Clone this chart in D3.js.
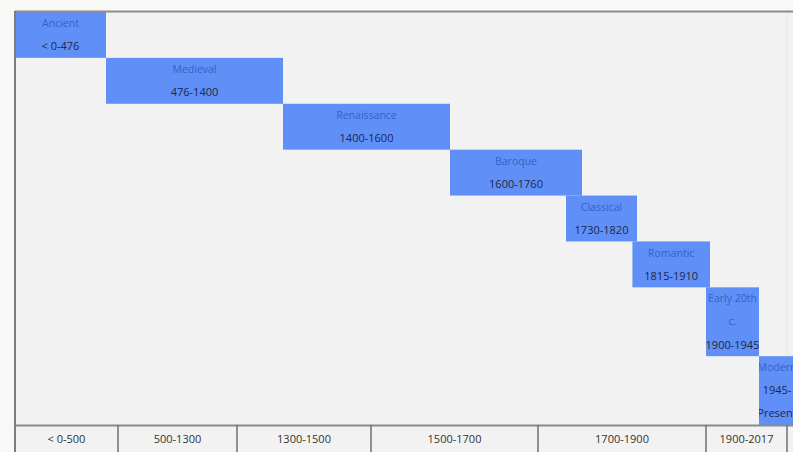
<!DOCTYPE html>
<html>
<head>
<meta charset="utf-8">
<script src="https://cdn.jsdelivr.net/npm/d3@7"></script>
<style>
  html, body { margin: 0; padding: 0; background: #f8f8f6; }
  svg { display: block; }
  text { font-family: "Open Sans", "DejaVu Sans", sans-serif; }
</style>
</head>
<body>
<svg id="chart" width="793" height="452"></svg>
<script>
// ---- data ----
const periods = ["Ancient", "Medieval", "Renaissance", "Baroque", "Classical", "Romantic", "Early 20th c.", "Modern"];
const nameLines = [["Ancient"], ["Medieval"], ["Renaissance"], ["Baroque"], ["Classical"], ["Romantic"], ["Early 20th", "c."], ["Modern"]];
const rangeLines = [["< 0-476"], ["476-1400"], ["1400-1600"], ["1600-1760"], ["1730-1820"], ["1815-1910"], ["1900-1945"], ["1945-", "Present"]];
const startYears = [0, 476, 1400, 1600, 1730, 1815, 1900, 1945];
const endYears = [476, 1400, 1600, 1760, 1820, 1910, 1945, null]; // null = present
const axisLabels = ["< 0-500", "500-1300", "1300-1500", "1500-1700", "1700-1900", "1900-2017"];
const axisBounds = [0, 500, 1300, 1500, 1700, 1900, 2017];

// ---- layout ----
const W = 793, H = 452;
const plotLeft = 15, plotTop = 12, axisY = 425;
const svg = d3.select("#chart");

// piecewise (table-like) year scale
const x = d3.scaleLinear()
  .domain([0, 476, 500, 1300, 1400, 1500, 1600, 1700, 1730, 1760, 1820, 1900, 1910, 1945, 2017])
  .range([15, 106, 118, 237, 283, 371, 450, 538, 566, 582, 637, 706, 710, 759, 787]);

const rows = periods.map((p, i) => ({
  name: p,
  lines: nameLines[i].map(t => ({t, kind: "name"})).concat(rangeLines[i].map(t => ({t, kind: "range"}))),
  start: startYears[i],
  end: endYears[i]
}));
let acc = 0;
rows.forEach(r => { r.l0 = acc; acc += r.lines.length; });
const y = d3.scaleLinear().domain([0, acc]).range([plotTop, axisY]);

// plot background
svg.append("rect").attr("x", plotLeft).attr("y", plotTop).attr("width", W - plotLeft).attr("height", H - plotTop).attr("fill", "#f2f2f2");
svg.append("line").attr("x1", x(2017)).attr("x2", x(2017)).attr("y1", plotTop).attr("y2", axisY).attr("stroke", "#e6e6e6").attr("stroke-width", 1);

const defs = svg.append("defs");
const g = svg.append("g");
rows.forEach((r, i) => {
  const x0 = x(r.start);
  const x1 = r.end == null ? W + 2 : x(r.end);
  const y0 = y(r.l0), y1 = y(r.l0 + r.lines.length);
  defs.append("clipPath").attr("id", "clip" + i)
    .append("rect").attr("x", x0).attr("y", y0).attr("width", x1 - x0).attr("height", y1 - y0);
  g.append("rect").attr("x", x0).attr("y", y0).attr("width", x1 - x0).attr("height", y1 - y0)
    .attr("fill", "#6090f7");
  const cx = (x0 + x1) / 2;
  g.append("g").attr("clip-path", `url(#clip${i})`)
    .selectAll("text").data(r.lines).join("text")
    .attr("x", cx)
    .attr("y", (d, j) => (y(r.l0 + j) + y(r.l0 + j + 1)) / 2)
    .attr("dy", "0.35em")
    .attr("text-anchor", "middle")
    .attr("font-size", d => d.kind === "name" ? 10.5 : 11)
    .attr("fill", d => d.kind === "name" ? "#3460c4" : "#1d2748")
    .text(d => d.t);
});

// borders
svg.append("line").attr("x1", plotLeft).attr("x2", W).attr("y1", plotTop - 0.5).attr("y2", plotTop - 0.5)
  .attr("stroke", "#8c8c8c").attr("stroke-width", 2);
svg.append("line").attr("x1", plotLeft).attr("x2", plotLeft).attr("y1", plotTop - 1).attr("y2", H)
  .attr("stroke", "#7d7d7d").attr("stroke-width", 2);
svg.append("line").attr("x1", plotLeft).attr("x2", W).attr("y1", axisY + 0.5).attr("y2", axisY + 0.5)
  .attr("stroke", "#8a8a8a").attr("stroke-width", 2);

// axis cells
const axisG = svg.append("g");
axisG.selectAll("line.sep").data(axisBounds.slice(1)).join("line").attr("class", "sep")
  .attr("x1", d => x(d)).attr("x2", d => x(d))
  .attr("y1", axisY).attr("y2", H)
  .attr("stroke", "#6f6f6f").attr("stroke-width", 1.5);
axisG.selectAll("text").data(axisLabels).join("text")
  .attr("x", (d, i) => (x(axisBounds[i]) + x(axisBounds[i + 1])) / 2)
  .attr("y", (axisY + H) / 2 + 1)
  .attr("dy", "0.35em")
  .attr("text-anchor", "middle")
  .attr("font-size", 11)
  .attr("fill", "#333")
  .text(d => d);
</script>
</body>
</html>
